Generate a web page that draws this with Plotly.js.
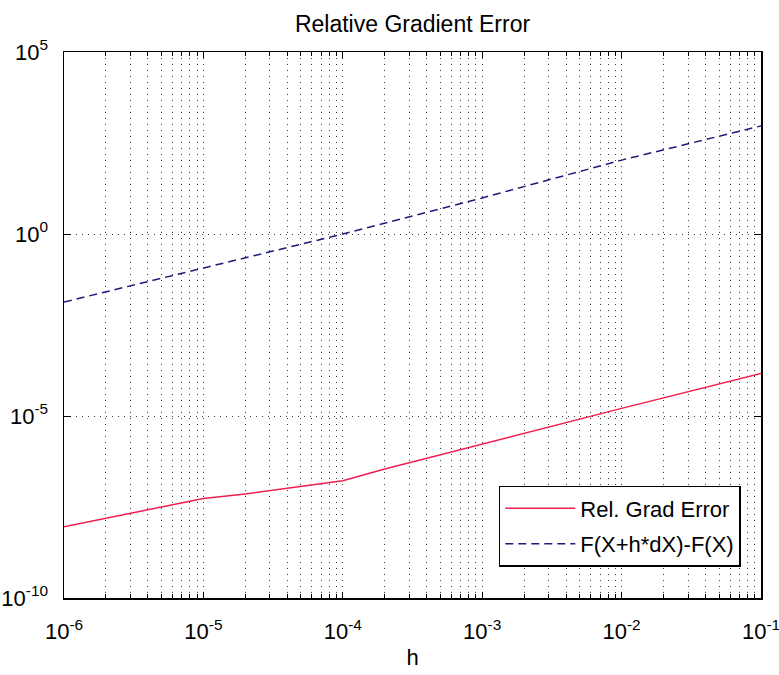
<!DOCTYPE html>
<html>
<head>
<meta charset="utf-8">
<script src="https://cdn.plot.ly/plotly-3.0.1.min.js"></script>
<style>html,body{margin:0;padding:0;background:#fff;}#chart{width:779px;height:675px;}</style>
</head>
<body>
<div id="chart"></div>
<script>
// Step sizes h
const hRel = [1e-6, 1e-5, 2e-5, 5e-5, 1e-4, 2e-4, 1e-3, 1e-2, 1e-1];
// Relative gradient error
const relGradErr = [9.1e-9, 5.4e-8, 7.2e-8, 1.15e-7, 1.66e-7, 3.5e-7, 1.7e-6, 1.62e-5, 1.48e-4];
const hDiff = [1e-6, 1e-5, 1e-4, 1e-3, 1e-2, 1e-1];
// F(X+h*dX)-F(X)
const fDiff = [1.35e-2, 1.17e-1, 1.0, 9.8, 1.07e2, 9.3e2];

const xMajor = [1e-6, 1e-5, 1e-4, 1e-3, 1e-2, 1e-1];
const xMajorText = ['10<sup>-6</sup>', '10<sup>-5</sup>', '10<sup>-4</sup>', '10<sup>-3</sup>', '10<sup>-2</sup>', '10<sup>-1</sup>'];
const yMajor = [1e-10, 1e-5, 1e0, 1e5];
const yMajorText = ['10<sup>-10</sup>', '10<sup>-5</sup>', '10<sup>0</sup>', '10<sup>5</sup>'];

const xMinor = [];
for (let e = -6; e < -1; e++) for (let d = 2; d <= 9; d++) xMinor.push(d * Math.pow(10, e));

const FONT = 'Liberation Sans, Arial, Helvetica, sans-serif';
const gridDash = '1px,5px';
const gridColor = '#3a3a3a';

const traces = [
  {x: hRel, y: relGradErr, type: 'scatter', mode: 'lines', name: 'Rel. Grad Error',
   legendgroup: 'a', line: {color: '#f01e50', width: 1.5}},
  {x: hDiff, y: fDiff, type: 'scatter', mode: 'lines', name: 'F(X+h*dX)-F(X)',
   legendgroup: 'b', line: {color: '#1c1c7a', width: 1.5, dash: '8px,5px'}}
];

const layout = {
  width: 779, height: 675,
  margin: {l: 64, r: 18, t: 52, b: 77},
  paper_bgcolor: '#fff', plot_bgcolor: '#fff',
  font: {family: FONT, color: '#000', size: 20},
  title: {text: 'Relative Gradient Error', font: {family: FONT, size: 23, color: '#000'},
          x: 0.5, xref: 'paper', xanchor: 'center', y: 0.965, yref: 'container', yanchor: 'middle'},
  showlegend: true,
  legend: {x: 0.971, xanchor: 'right', y: 0.057, yanchor: 'bottom',
           bordercolor: '#000', borderwidth: 1.5, bgcolor: '#fff', itemwidth: 70,
           font: {family: FONT, size: 22, color: '#000'}, tracegroupgap: 4},
  xaxis: {
    type: 'log', range: [-6, -1],
    tickmode: 'array', tickvals: xMajor, ticktext: xMajorText,
    ticks: 'inside', ticklen: 6, tickcolor: '#000', tickwidth: 1,
    showline: true, linecolor: '#000', linewidth: 1.5, mirror: 'ticks',
    showgrid: true, gridcolor: gridColor, griddash: gridDash, gridwidth: 1,
    zeroline: false,
    tickfont: {family: FONT, size: 22, color: '#000'},
    ticklabelstandoff: 13, ticklabeloverflow: 'allow',
    minor: {tickmode: 'array', tickvals: xMinor, ticks: 'inside', ticklen: 4, tickcolor: '#000',
            showgrid: true, gridcolor: gridColor, griddash: gridDash, gridwidth: 1},
    title: {text: 'h', font: {family: FONT, size: 22, color: '#000'}, standoff: 6}
  },
  yaxis: {
    type: 'log', range: [-10, 5],
    tickmode: 'array', tickvals: yMajor, ticktext: yMajorText,
    ticks: 'inside', ticklen: 7, tickcolor: '#000', tickwidth: 1,
    showline: true, linecolor: '#000', linewidth: 1.5, mirror: 'ticks',
    showgrid: true, gridcolor: gridColor, griddash: gridDash, gridwidth: 1,
    zeroline: false,
    tickfont: {family: FONT, size: 22, color: '#000'},
    ticklabelstandoff: 10, ticklabeloverflow: 'allow'
  }
};

Plotly.newPlot('chart', traces, layout, {displayModeBar: false, staticPlot: true});
</script>
</body>
</html>
